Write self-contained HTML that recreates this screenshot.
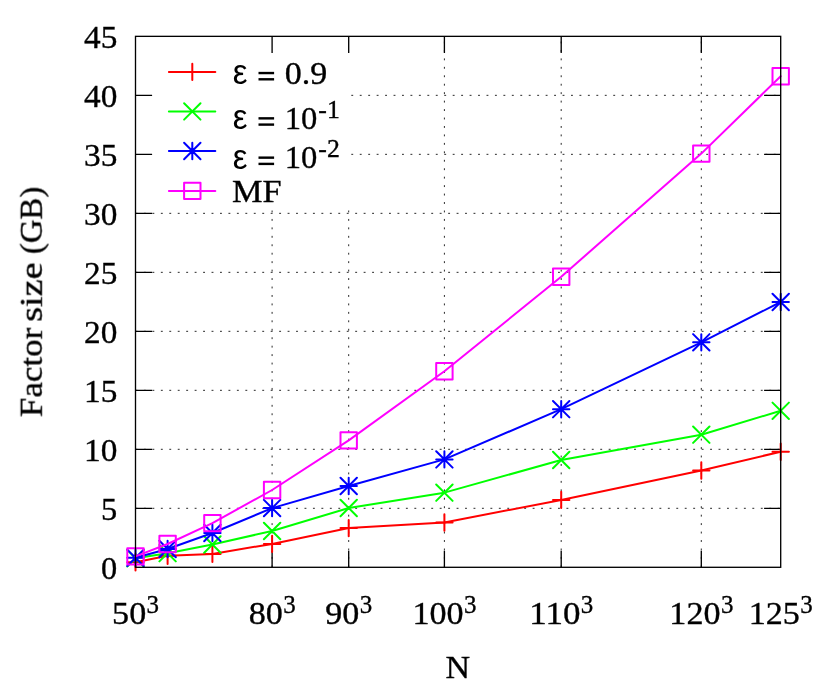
<!DOCTYPE html>
<html><head><meta charset="utf-8"><title>Factor size vs N</title>
<style>
html,body{margin:0;padding:0;background:#fff;}
body{width:830px;height:692px;overflow:hidden;font-family:"Liberation Serif",serif;}
svg{display:block;}
</style></head><body>
<svg width="830" height="692" viewBox="0 0 830 692">
<defs><mask id="gm" maskUnits="userSpaceOnUse" x="0" y="0" width="830" height="692"><rect width="830" height="692" fill="#fff"/></mask></defs>
<rect width="830" height="692" fill="#fff"/>
<g stroke="#000" stroke-width="0.85" stroke-dasharray="1.9 6.55" fill="none">
<path d="M135.50 508.31H780.70"/>
<path d="M135.50 449.31H780.70"/>
<path d="M135.50 390.32H780.70"/>
<path d="M135.50 331.32H780.70"/>
<path d="M135.50 272.33H780.70"/>
<path d="M135.50 213.33H780.70"/>
<path d="M351.30 154.34H780.70"/>
<path d="M351.30 95.34H780.70"/>
<path d="M272.10 567.30V209.00"/>
<path d="M348.70 567.30V209.00"/>
<path d="M444.40 567.30V36.35"/>
<path d="M561.20 567.30V36.35"/>
<path d="M701.30 567.30V36.35"/>
</g>
<g stroke="#000" stroke-width="1.33" fill="none">
<path d="M135.50 508.31h16.6M780.70 508.31h-16.6"/>
<path d="M135.50 449.31h16.6M780.70 449.31h-16.6"/>
<path d="M135.50 390.32h16.6M780.70 390.32h-16.6"/>
<path d="M135.50 331.32h16.6M780.70 331.32h-16.6"/>
<path d="M135.50 272.33h16.6M780.70 272.33h-16.6"/>
<path d="M135.50 213.33h16.6M780.70 213.33h-16.6"/>
<path d="M135.50 154.34h16.6M780.70 154.34h-16.6"/>
<path d="M135.50 95.34h16.6M780.70 95.34h-16.6"/>
<path d="M272.10 567.30v-16.6M272.10 36.35v16.6"/>
<path d="M348.70 567.30v-16.6M348.70 36.35v16.6"/>
<path d="M444.40 567.30v-16.6M444.40 36.35v16.6"/>
<path d="M561.20 567.30v-16.6M561.20 36.35v16.6"/>
<path d="M701.30 567.30v-16.6M701.30 36.35v16.6"/>
</g>
<g stroke="#ff0000" stroke-width="2.0" fill="none" stroke-linecap="round" stroke-linejoin="round">
<polyline points="135.50,562.30 167.60,555.70 212.40,553.90 272.10,543.90 348.70,528.10 444.40,522.50 561.20,499.90 701.30,470.50 780.70,451.70"/>
<path d="M127.30 562.30H143.70M135.50 554.10V570.50M159.40 555.70H175.80M167.60 547.50V563.90M204.20 553.90H220.60M212.40 545.70V562.10M263.90 543.90H280.30M272.10 535.70V552.10M340.50 528.10H356.90M348.70 519.90V536.30M436.20 522.50H452.60M444.40 514.30V530.70M553.00 499.90H569.40M561.20 491.70V508.10M693.10 470.50H709.50M701.30 462.30V478.70M772.50 451.70H788.90M780.70 443.50V459.90"/>
</g>
<g stroke="#00ff00" stroke-width="2.0" fill="none" stroke-linecap="round" stroke-linejoin="round">
<polyline points="135.50,558.30 167.60,553.20 212.40,544.50 272.10,531.00 348.70,508.00 444.40,492.65 561.20,460.00 701.30,434.70 780.70,410.80"/>
<path d="M127.30 550.10L143.70 566.50M127.30 566.50L143.70 550.10M159.40 545.00L175.80 561.40M159.40 561.40L175.80 545.00M204.20 536.30L220.60 552.70M204.20 552.70L220.60 536.30M263.90 522.80L280.30 539.20M263.90 539.20L280.30 522.80M340.50 499.80L356.90 516.20M340.50 516.20L356.90 499.80M436.20 484.45L452.60 500.85M436.20 500.85L452.60 484.45M553.00 451.80L569.40 468.20M553.00 468.20L569.40 451.80M693.10 426.50L709.50 442.90M693.10 442.90L709.50 426.50M772.50 402.60L788.90 419.00M772.50 419.00L788.90 402.60"/>
</g>
<g stroke="#0000ff" stroke-width="2.0" fill="none" stroke-linecap="round" stroke-linejoin="round">
<polyline points="135.50,557.80 167.60,549.00 212.40,533.00 272.10,508.10 348.70,486.00 444.40,459.40 561.20,409.20 701.30,342.35 780.70,302.00"/>
<path d="M127.30 557.80H143.70M135.50 549.60V566.00M127.30 549.60L143.70 566.00M127.30 566.00L143.70 549.60M159.40 549.00H175.80M167.60 540.80V557.20M159.40 540.80L175.80 557.20M159.40 557.20L175.80 540.80M204.20 533.00H220.60M212.40 524.80V541.20M204.20 524.80L220.60 541.20M204.20 541.20L220.60 524.80M263.90 508.10H280.30M272.10 499.90V516.30M263.90 499.90L280.30 516.30M263.90 516.30L280.30 499.90M340.50 486.00H356.90M348.70 477.80V494.20M340.50 477.80L356.90 494.20M340.50 494.20L356.90 477.80M436.20 459.40H452.60M444.40 451.20V467.60M436.20 451.20L452.60 467.60M436.20 467.60L452.60 451.20M553.00 409.20H569.40M561.20 401.00V417.40M553.00 401.00L569.40 417.40M553.00 417.40L569.40 401.00M693.10 342.35H709.50M701.30 334.15V350.55M693.10 334.15L709.50 350.55M693.10 350.55L709.50 334.15M772.50 302.00H788.90M780.70 293.80V310.20M772.50 293.80L788.90 310.20M772.50 310.20L788.90 293.80"/>
</g>
<g stroke="#ff00ff" stroke-width="2.0" fill="none" stroke-linecap="round" stroke-linejoin="round">
<polyline points="135.50,556.35 167.60,544.00 212.40,523.10 272.10,490.00 348.70,440.40 444.40,371.30 561.20,276.75 701.30,153.60 780.70,76.20"/>
<path d="M127.30 548.15H143.70V564.55H127.30ZM159.40 535.80H175.80V552.20H159.40ZM204.20 514.90H220.60V531.30H204.20ZM263.90 481.80H280.30V498.20H263.90ZM340.50 432.20H356.90V448.60H340.50ZM436.20 363.10H452.60V379.50H436.20ZM553.00 268.55H569.40V284.95H553.00ZM693.10 145.40H709.50V161.80H693.10ZM772.50 68.00H788.90V84.40H772.50Z"/>
</g>
<g stroke="#ff0000" stroke-width="2.0" fill="none" stroke-linecap="round" stroke-linejoin="round">
<path d="M168.9 71.9H215.3"/>
<path d="M184.10 71.90H200.50M192.30 63.70V80.10"/>
</g>
<g stroke="#00ff00" stroke-width="2.0" fill="none" stroke-linecap="round" stroke-linejoin="round">
<path d="M168.9 111.4H215.3"/>
<path d="M184.10 103.20L200.50 119.60M184.10 119.60L200.50 103.20"/>
</g>
<g stroke="#0000ff" stroke-width="2.0" fill="none" stroke-linecap="round" stroke-linejoin="round">
<path d="M168.9 151.0H215.3"/>
<path d="M184.10 151.00H200.50M192.30 142.80V159.20M184.10 142.80L200.50 159.20M184.10 159.20L200.50 142.80"/>
</g>
<g stroke="#ff00ff" stroke-width="2.0" fill="none" stroke-linecap="round" stroke-linejoin="round">
<path d="M168.9 190.9H215.3"/>
<path d="M184.10 182.70H200.50V199.10H184.10Z"/>
</g>
<rect x="135.5" y="36.35" width="645.20" height="530.95" fill="none" stroke="#000" stroke-width="1.33"/>
<g mask="url(#gm)">
<g font-family="Liberation Serif, serif" font-size="32.3" fill="#000" stroke="#000" stroke-width="0.35">
<text x="117.3" y="579.10" text-anchor="end" textLength="16.2" lengthAdjust="spacingAndGlyphs">0</text>
<text x="117.3" y="520.11" text-anchor="end" textLength="16.2" lengthAdjust="spacingAndGlyphs">5</text>
<text x="117.3" y="461.11" text-anchor="end" textLength="33.3" lengthAdjust="spacingAndGlyphs">10</text>
<text x="117.3" y="402.12" text-anchor="end" textLength="33.3" lengthAdjust="spacingAndGlyphs">15</text>
<text x="117.3" y="343.12" text-anchor="end" textLength="33.3" lengthAdjust="spacingAndGlyphs">20</text>
<text x="117.3" y="284.13" text-anchor="end" textLength="33.3" lengthAdjust="spacingAndGlyphs">25</text>
<text x="117.3" y="225.13" text-anchor="end" textLength="33.3" lengthAdjust="spacingAndGlyphs">30</text>
<text x="117.3" y="166.14" text-anchor="end" textLength="33.3" lengthAdjust="spacingAndGlyphs">35</text>
<text x="117.3" y="107.14" text-anchor="end" textLength="33.3" lengthAdjust="spacingAndGlyphs">40</text>
<text x="117.3" y="48.15" text-anchor="end" textLength="33.3" lengthAdjust="spacingAndGlyphs">45</text>
<text x="112.10" y="624.3" textLength="34.10" lengthAdjust="spacingAndGlyphs">50</text>
<text x="146.60" y="613.10" font-size="25.8" textLength="12.50" lengthAdjust="spacingAndGlyphs">3</text>
<text x="248.70" y="624.3" textLength="34.10" lengthAdjust="spacingAndGlyphs">80</text>
<text x="283.20" y="613.10" font-size="25.8" textLength="12.50" lengthAdjust="spacingAndGlyphs">3</text>
<text x="325.30" y="624.3" textLength="34.10" lengthAdjust="spacingAndGlyphs">90</text>
<text x="359.80" y="613.10" font-size="25.8" textLength="12.50" lengthAdjust="spacingAndGlyphs">3</text>
<text x="412.47" y="624.3" textLength="51.15" lengthAdjust="spacingAndGlyphs">100</text>
<text x="464.02" y="613.10" font-size="25.8" textLength="12.50" lengthAdjust="spacingAndGlyphs">3</text>
<text x="529.28" y="624.3" textLength="51.15" lengthAdjust="spacingAndGlyphs">110</text>
<text x="580.83" y="613.10" font-size="25.8" textLength="12.50" lengthAdjust="spacingAndGlyphs">3</text>
<text x="669.38" y="624.3" textLength="51.15" lengthAdjust="spacingAndGlyphs">120</text>
<text x="720.92" y="613.10" font-size="25.8" textLength="12.50" lengthAdjust="spacingAndGlyphs">3</text>
<text x="748.78" y="624.3" textLength="51.15" lengthAdjust="spacingAndGlyphs">125</text>
<text x="800.33" y="613.10" font-size="25.8" textLength="12.50" lengthAdjust="spacingAndGlyphs">3</text>
<text x="457.9" y="677.6" font-size="32.0" text-anchor="middle" textLength="24.6" lengthAdjust="spacingAndGlyphs">N</text>
<g transform="translate(41.8 416.6) rotate(-90)" font-size="32.0">
<text x="-0.5" y="0" textLength="89.3" lengthAdjust="spacingAndGlyphs">Factor</text>
<text x="94.7" y="0" textLength="59.6" lengthAdjust="spacingAndGlyphs">size</text>
<text x="162.6" y="0" textLength="67.2" lengthAdjust="spacingAndGlyphs">(GB)</text>
</g>
</g>
<text x="232.8" y="84.0" font-family="Liberation Sans, sans-serif" font-size="34.3" fill="#000" textLength="14.7" lengthAdjust="spacingAndGlyphs">ε</text>
<rect x="258.5" y="71.85" width="15.6" height="2.4" fill="#000"/>
<rect x="258.5" y="78.10" width="15.6" height="2.4" fill="#000"/>
<text x="284.8" y="83.6" font-family="Liberation Serif, serif" font-size="32.3" fill="#000" stroke="#000" stroke-width="0.35" textLength="42.5" lengthAdjust="spacingAndGlyphs">0.9</text>
<text x="232.8" y="129.3" font-family="Liberation Sans, sans-serif" font-size="34.3" fill="#000" textLength="14.7" lengthAdjust="spacingAndGlyphs">ε</text>
<rect x="258.5" y="117.15" width="15.6" height="2.4" fill="#000"/>
<rect x="258.5" y="123.40" width="15.6" height="2.4" fill="#000"/>
<text x="284.8" y="128.9" font-family="Liberation Serif, serif" font-size="32.3" fill="#000" stroke="#000" stroke-width="0.35" textLength="32.6" lengthAdjust="spacingAndGlyphs">10</text>
<text x="318.3" y="117.7" font-family="Liberation Serif, serif" font-size="25.8" fill="#000" stroke="#000" stroke-width="0.35" textLength="21.5" lengthAdjust="spacingAndGlyphs">-1</text>
<text x="232.8" y="168.6" font-family="Liberation Sans, sans-serif" font-size="34.3" fill="#000" textLength="14.7" lengthAdjust="spacingAndGlyphs">ε</text>
<rect x="258.5" y="156.45" width="15.6" height="2.4" fill="#000"/>
<rect x="258.5" y="162.70" width="15.6" height="2.4" fill="#000"/>
<text x="284.8" y="168.2" font-family="Liberation Serif, serif" font-size="32.3" fill="#000" stroke="#000" stroke-width="0.35" textLength="32.6" lengthAdjust="spacingAndGlyphs">10</text>
<text x="318.3" y="157.0" font-family="Liberation Serif, serif" font-size="25.8" fill="#000" stroke="#000" stroke-width="0.35" textLength="21.5" lengthAdjust="spacingAndGlyphs">-2</text>
<text x="232" y="201.7" font-family="Liberation Serif, serif" font-size="32.0" fill="#000" stroke="#000" stroke-width="0.35" textLength="49.6" lengthAdjust="spacingAndGlyphs">MF</text>
</g>
</svg>
</body></html>
